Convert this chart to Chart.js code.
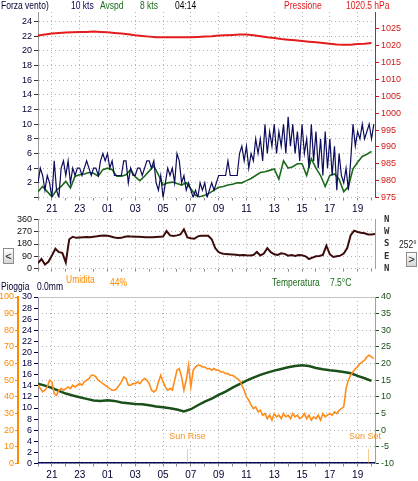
<!DOCTYPE html>
<html>
<head>
<meta charset="utf-8">
<script src="https://cdn.jsdelivr.net/npm/chart.js@4.4.1/dist/chart.umd.min.js"></script>
<style>
html,body{margin:0;padding:0;background:#fff;}
#wrap{position:relative;width:418px;height:481px;overflow:hidden;background:#fff;
 font-family:"Liberation Sans",Arial,sans-serif;font-size:10px;}
#wrap canvas{position:absolute;left:0;}
.t{position:absolute;white-space:nowrap;line-height:12px;height:12px;transform:scaleX(0.85);transform-origin:0 0;}
.btn{position:absolute;box-sizing:border-box;border:1px solid #8c8c8c;background:linear-gradient(#fdfdfd,#d6d6d6);color:#222;font:11px "Liberation Sans",Arial,sans-serif;text-align:center;}
</style>
</head>
<body>
<div id="wrap">
 <canvas id="cWind" width="418" height="218" style="top:0px"></canvas>
 <canvas id="cDir" width="418" height="78" style="top:205px"></canvas>
 <canvas id="cTH" width="418" height="196" style="top:285px"></canvas>

 <div class="t" style="left:1px;top:0px;color:#000033">Forza vento)</div>
 <div class="t" style="left:71px;top:0px;color:#000055">10 kts</div>
 <div class="t" style="left:100px;top:0px;color:#1b6b1b">Avspd</div>
 <div class="t" style="left:140px;top:0px;color:#1b6b1b">8 kts</div>
 <div class="t" style="left:175px;top:0px;color:#000000">04:14</div>
 <div class="t" style="left:284px;top:0px;color:#dd1a1a">Pressione</div>
 <div class="t" style="left:346px;top:0px;color:#dd1a1a">1020.5 hPa</div>

 <div class="t" style="left:399px;top:239px;color:#222">252°</div>
 <div class="btn" style="left:3px;top:248px;width:11px;height:16px;line-height:14px">&lt;</div>
 <div class="btn" style="left:406px;top:252px;width:11px;height:15px;line-height:13px">&gt;</div>

 <div class="t" style="left:1px;top:281px;color:#000033">Pioggia</div>
 <div class="t" style="left:37px;top:281px;color:#000033">0.0mm</div>
 <div class="t" style="left:66px;top:274px;color:#ff8a00">Umidita</div>
 <div class="t" style="left:110px;top:277px;color:#ff8a00">44%</div>
 <div class="t" style="left:272px;top:277px;color:#1b6b1b">Temperatura</div>
 <div class="t" style="left:330px;top:277px;color:#1b6b1b">7.5°C</div>
</div>
<script>
// ---------- time axis (hours after 20:00) ----------
const X_MAX = 24.25;
const xTickHours  = [1, 3, 5, 7, 9, 11, 13, 15, 17, 19, 21, 23];
const xTickLabels = ['21','23','01','03','05','07','09','11','13','15','17','19'];
const minorTickHours = [0,1,2,3,4,5,6,7,8,9,10,11,12,13,14,15,16,17,18,19,20,21,22,23,24];

// ---------- wind panel ----------
const windTickValues = [0,2,4,6,8,10,12,14,16,18,20,22,24];
const pressureTickValues = [975,980,985,990,995,1000,1005,1010,1015,1020,1025];

const GUST_STEP_H = 1/6;   // 10 min samples
const gustKts = [
 2,4,3,1,3,2,  0,5,1,0,4,5,  3,5,2,4,3,4,  4,3,4,5,4,3,
 4,4,3,5,6,5,  6,4,5,3,3,3,  3,5,5,2,4,3,  3,4,4,3,4,5,
 5,4,5,2,1,3,  0,2,4,3,4,2,  6,5,2,3,1,2,  1,0,1,0,2,1,
 2,0,1,2,1,2,  3,3,3,3,5,3,  3,3,3,6,7,5,  7,4,6,5,8,6,
 8,5,10,6,9,7, 10,6,9,7,10,6, 11,7,10,6,9,5, 10,6,8,4,10,5,
 9,4,8,3,9,4,  8,3,7,1,6,3,  2,4,1,5,10,7, 9,8,10,8,9,10,
 8,10
];

const AVG_STEP_H = 1/3;    // 20 min samples
const avgKts = [
 0.8,1.5,0.8, 0.1,1.0,1.5, 2.2,1.3,2.9, 3.1,3.2,3.4,
 3.3,2.9,3.8, 4.0,3.8,2.9, 2.9,3.1,3.8, 2.8,2.3,2.9,
 3.6,4.3,3.1, 1.7,2.0,2.1, 1.9,1.7,2.0, 1.2,0.3,0.1,
 0.3,0.6,1.0, 1.4,1.5,1.7, 1.8,2.0,2.0, 2.3,2.6,3.0,
 3.4,3.5,3.7, 3.9,2.5,5.0, 4.0,4.2,4.6, 4.6,3.0,5.3,
 4.0,3.0,1.5, 3.0,3.2,2.5, 0.8,1.5,3.9, 4.8,5.6,5.9,
 6.3
];

const PRESS_STEP_H = 0.5;
const pressureHpa = [
 1023.0,1023.3,1023.6,1023.8,1023.9,1024.0,1024.1,1024.1,1024.2,1024.1,
 1024.0,1023.8,1023.6,1023.4,1023.1,1022.9,1022.7,1022.5,1022.5,1022.5,
 1022.5,1022.5,1022.5,1022.6,1022.7,1022.8,1023.0,1023.1,1023.2,1023.3,
 1023.3,1023.1,1022.8,1022.5,1022.3,1022.0,1021.8,1021.6,1021.4,1021.2,
 1021.0,1020.8,1020.6,1020.4,1020.3,1020.3,1020.5,1020.6,1020.8
];

// ---------- direction panel ----------
const dirTickValues = [0,90,180,270,360];
const dirTickLetters = ['N','E','S','W','N'];
const DIR_STEP_H = 0.25;
const windDirDeg = [
 40,70,30,50, 95,145,120,115, 45,215,233,225, 228,230,231,230,
 233,236,240,243, 240,235,228,224, 225,233,237,234, 233,233,232,230,
 230,229,231,233, 235,275,243,239, 243,250,288,228, 222,218,236,240,
 240,240,215,150, 120,110,106,105, 104,102,98,100, 97,96,100,122,
 96,110,150,120, 105,100,112,108, 95,100,92,100, 98,90,70,80,
 90,92,100,168, 105,85,90,95, 110,150,245,278, 268,262,258,250,
 250,253
];

// ---------- humidity / temperature / rain panel ----------
const humidityTickValues = [0,10,20,30,40,50,60,70,80,90,100];
const rainTickValues = [0,2,4,6,8,10,12,14,16,18,20,22,24,26,28,30];
const tempTickValues = [-10,-5,0,5,10,15,20,25,30,35,40];

const HUM_STEP_H = 1/6;
const humidityPct = [
 47,45,43,44,46,50, 49,42,41,44,45,44, 45,46,45,47,46,47, 48,47,49,50,51,53,
 53,52,50,49,48,47, 46,45,44,44,45,47, 49,52,51,47,47,48, 48,49,48,50,51,50,
 48,44,43,44,49,53, 49,46,44,45,44,50, 56,57,52,44,50,59, 46,56,58,59,59,58,
 58,57,57,56,57,56, 56,55,55,54,54,53, 53,52,51,50,47,44, 40,38,35,33,34,31,
 32,29,30,27,29,26, 30,28,29,27,30,28, 29,27,30,28,29,27, 28,30,27,29,26,28,
 27,29,26,30,28,29, 30,29,31,30,32,33, 34,45,50,53,55,57, 58,60,61,62,64,65,
 64,63
];

const TEMP_STEP_H = 0.5;
const tempC = [
 14.0,13.4,12.7,11.8,11.0,10.4,9.9,9.4,8.9,8.8,
 9.0,8.8,8.3,8.1,7.9,7.8,7.5,7.1,6.9,6.6,
 6.2,5.6,6.3,7.5,8.6,9.5,10.6,11.6,12.8,13.8,
 14.9,15.8,16.6,17.3,17.9,18.4,18.9,19.3,19.5,19.3,
 18.7,18.3,18.0,17.8,17.5,17.1,16.3,15.6,14.8
];

const rainHours = [0, 24.25];
const rainMm = [0, 0];

const sunEventHours = [10.75, 23.75];
const sunEventLabels = ['Sun Rise', 'Sun Set'];

// ---------- helpers ----------
const FONT = '"Liberation Sans",Arial,sans-serif';
Chart.defaults.font.family = FONT;
Chart.defaults.font.size = 9;
const GRID = '#b0b0b0';
const series = (vals, step) => vals.map((v, i) => ({x: i * step, y: v}));
const pairs = (xs, ys) => xs.map((x, i) => ({x: x, y: ys[i]}));
const fixedTicks = vals => s => { s.ticks = vals.map(v => ({value: v})); };
const plain = v => String(v);

function timeAxis(height, showLabels) {
  return {
    type: 'linear', min: 0, max: X_MAX,
    afterBuildTicks: fixedTicks(minorTickHours),
    afterFit: s => { s.height = height; },
    ticks: {display: showLabels, autoSkip: false, maxRotation: 0, minRotation: 0, padding: 3,
      color: '#000033', font: {size: 10},
      callback: v => { const i = xTickHours.indexOf(v); return i < 0 ? '' : xTickLabels[i]; }},
    grid: {color: c => (c.tick && xTickHours.includes(c.tick.value)) ? GRID : 'rgba(0,0,0,0)',
      tickColor: '#8a8a8a', tickLength: 3, lineWidth: 1},
    border: {display: false, dash: [1, 3]}
  };
}

const framePlugin = {
  id: 'frame',
  beforeDatasetsDraw(chart, args, opts) {
    const a = chart.chartArea, ctx = chart.ctx;
    ctx.save(); ctx.lineWidth = 1;
    if (opts.top) { ctx.strokeStyle = opts.top; ctx.beginPath(); ctx.moveTo(a.left, Math.round(a.top) + 0.5); ctx.lineTo(a.right, Math.round(a.top) + 0.5); ctx.stroke(); }
    ctx.restore();
  }
};

const sunPlugin = {
  id: 'sun',
  afterDatasetsDraw(chart) {
    const xs = chart.scales.x, a = chart.chartArea, ctx = chart.ctx;
    ctx.save();
    ctx.font = '9px ' + FONT;
    ctx.fillStyle = '#f39425'; ctx.strokeStyle = '#f39425';
    ctx.lineWidth = 1; ctx.setLineDash([1, 1]);
    ctx.textAlign = 'center'; ctx.textBaseline = 'middle';
    sunEventHours.forEach((h, i) => {
      const px = Math.round(xs.getPixelForValue(h)) + 0.5;
      ctx.beginPath(); ctx.moveTo(px, a.bottom - 1); ctx.lineTo(px, a.bottom - 14); ctx.stroke();
      const w = ctx.measureText(sunEventLabels[i]).width;
      const cx = Math.min(px, a.right + 6 - w / 2);
      ctx.fillText(sunEventLabels[i], cx, a.bottom - 27);
    });
    ctx.restore();
  }
};

const common = {
  animation: false, responsive: false, devicePixelRatio: 1, events: [],
  plugins: {legend: {display: false}, tooltip: {enabled: false}},
  elements: {point: {radius: 0}, line: {tension: 0}}
};

// ---------- chart 1: wind + pressure ----------
new Chart(document.getElementById('cWind'), {
  type: 'line',
  data: {datasets: [
    {data: series(pressureHpa, PRESS_STEP_H), yAxisID: 'yP', borderColor: '#e41c1c', borderWidth: 2},
    {data: series(gustKts, GUST_STEP_H), yAxisID: 'yW', borderColor: '#0d0d5c', borderWidth: 1.2},
    {data: series(avgKts, AVG_STEP_H), yAxisID: 'yW', borderColor: '#1c6a1c', borderWidth: 1.6}
  ]},
  options: Object.assign({}, common, {
    layout: {padding: {top: 12, left: 0, right: 0, bottom: 0}},
    scales: {
      x: timeAxis(20.5, true),
      yW: {position: 'left', min: 0, max: 25.3,
        afterBuildTicks: fixedTicks(windTickValues), afterFit: s => { s.width = 38; },
        ticks: {autoSkip: false, color: '#000033', padding: 2, callback: v => v === 0 ? '' : plain(v)},
        grid: {color: GRID, tickColor: '#333', tickLength: 4},
        border: {display: true, color: '#9a9a9a', dash: [1, 3]}},
      yP: {position: 'right', min: 975, max: 1030,
        afterBuildTicks: fixedTicks(pressureTickValues), afterFit: s => { s.width = 43; },
        ticks: {autoSkip: false, color: '#d01818', padding: 2, callback: plain},
        grid: {drawOnChartArea: false, tickColor: '#d01818', tickLength: 4},
        border: {display: true, color: '#d01818', width: 1}}
    }
  })
});

// ---------- chart 2: wind direction ----------
new Chart(document.getElementById('cDir'), {
  type: 'line',
  data: {datasets: [
    {data: series(windDirDeg, DIR_STEP_H), yAxisID: 'yD', borderColor: '#3d0c0c', borderWidth: 2}
  ]},
  options: Object.assign({}, common, {
    layout: {padding: {top: 11, left: 0, right: 0, bottom: 0}},
    scales: {
      x: timeAxis(8, false),
      yD: {position: 'left', min: 0, max: 360,
        afterBuildTicks: fixedTicks(dirTickValues), afterFit: s => { s.width = 38; },
        ticks: {autoSkip: false, color: '#111', padding: 2, callback: plain},
        grid: {color: GRID, tickColor: '#333', tickLength: 4},
        border: {display: true, color: '#a0a0a0', dash: [1, 3]}},
      yC: {position: 'right', min: 0, max: 360,
        afterBuildTicks: fixedTicks(dirTickValues), afterFit: s => { s.width = 43; },
        ticks: {autoSkip: false, color: '#333', padding: 9, font: {family: '"DejaVu Sans Mono",monospace', size: 9, weight: 'bold'},
          callback: v => dirTickLetters[dirTickValues.indexOf(v)]},
        grid: {drawOnChartArea: false, drawTicks: false},
        border: {display: true, color: '#a0a0a0'}}
    }
  })
});

// ---------- chart 3: humidity / rain / temperature ----------
new Chart(document.getElementById('cTH'), {
  type: 'line',
  data: {datasets: [
    {data: pairs(rainHours, rainMm), yAxisID: 'yR', borderColor: '#0a0a5a', borderWidth: 3},
    {data: series(humidityPct, HUM_STEP_H), yAxisID: 'yH', borderColor: '#ff8c1a', borderWidth: 1.6},
    {data: series(tempC, TEMP_STEP_H), yAxisID: 'yT', borderColor: '#1b501b', borderWidth: 2.5}
  ]},
  options: Object.assign({}, common, {
    layout: {padding: {top: 12, left: 0, right: 0, bottom: 0}},
    plugins: {legend: {display: false}, tooltip: {enabled: false}, frame: {top: '#c4c4c4'}},
    scales: {
      x: timeAxis(17.5, true),
      yH: {position: 'left', weight: 10, min: 0, max: 100,
        afterBuildTicks: fixedTicks(humidityTickValues), afterFit: s => { s.width = 18; },
        ticks: {autoSkip: false, color: '#ff8a00', padding: 1, callback: plain},
        grid: {drawOnChartArea: false, tickColor: '#ff8a00', tickLength: 3},
        border: {display: true, color: '#ff8a00', width: 2}},
      yR: {position: 'left', weight: 0, min: 0, max: 30,
        afterBuildTicks: fixedTicks(rainTickValues), afterFit: s => { s.width = 20; },
        ticks: {autoSkip: false, color: '#000040', padding: 2, callback: plain},
        grid: {drawOnChartArea: false, tickColor: '#000040', tickLength: 4},
        border: {display: true, color: '#8a8aa8', width: 1}},
      yT: {position: 'right', min: -10, max: 40,
        afterBuildTicks: fixedTicks(tempTickValues), afterFit: s => { s.width = 43; },
        ticks: {autoSkip: false, color: '#1b501b', padding: 2, callback: plain},
        grid: {color: GRID, tickColor: '#1b501b', tickLength: 4},
        border: {display: true, color: '#a0a0a0', dash: [1, 3]}}
    }
  }),
  plugins: [framePlugin, sunPlugin]
});
</script>
</body>
</html>
